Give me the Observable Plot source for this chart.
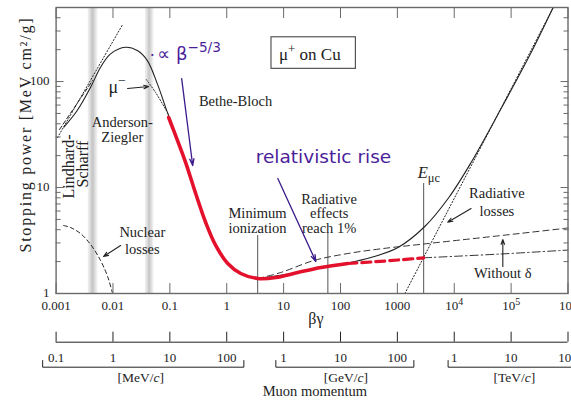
<!DOCTYPE html>
<html><head><meta charset="utf-8">
<script src="https://cdn.jsdelivr.net/npm/d3@7"></script>
<script src="https://cdn.jsdelivr.net/npm/@observablehq/plot@0.6"></script>
<style>html,body{margin:0;padding:0;background:#fff;}</style>
</head><body><div id="chart"></div>
<script>
// ---------- values: x = βγ, y = stopping power [MeV cm²/g] ----------
const xTicks = [0.001, 0.01, 0.1, 1, 10, 100, 1000, 1e4, 1e5, 1e6];
const xTickLabels = ["0.001", "0.01", "0.1", "1", "10", "100", "1000", "10^{4}", "10^{5}", "10^{6}"];
const yMajor = [1, 10, 100];
const yTickLabels = ["1", "10", "100"];
const yMinor = [2, 3, 4, 5, 6, 7, 8, 9, 20, 30, 40, 50, 60, 70, 80, 90, 200, 300, 400];
const momentumLabels = ["0.1", "1", "10", "100", "1", "10", "100", "1", "10", "100"];
const momentumUnits = ["[MeV/*c*]", "[GeV/*c*]", "[TeV/*c*]"];
const unitCenters = [0.0308, 123.9, 114300];
const brackets = [[0.00058, 2.0], [7.3, 1950], [7800, 1.3e6]];

const bandsOuter = [[0.00368, 0.00540], [0.0372, 0.0523]];
const bandsMid = [[0.00395, 0.00503], [0.0398, 0.0489]];
const bandsInner = [[0.00420, 0.00473], [0.0423, 0.0460]];

const andersonZiegler = [[0.00137, 37.1], [0.00235, 53.3], [0.00404, 88.3], [0.00605, 136.4], [0.00907, 182.5],
  [0.01667, 210.8], [0.0268, 196.1], [0.0402, 157.8], [0.0603, 95.1], [0.0904, 51.3], [0.0953, 47.8]];
const azDashed = [[0.00115, 35.3], [0.00437, 102.2]];
const lindhard = [[0.00106, 29.6], [0.01476, 345]];
const muMinus = [[0.0386, 104.4], [0.0562, 78.8], [0.0866, 53.3]];
const nuclear = [[0.00135, 4.38], [0.00179, 4.195], [0.00269, 3.68], [0.00404, 2.90], [0.00605, 2.048], [0.00804, 1.447], [0.00984, 1.0]];
const redSolid = [[0.0953, 45.8], [0.1265, 30.9], [0.1897, 17.2], [0.2844, 8.78], [0.4266, 4.68], [0.6397, 2.84],
  [1.042, 1.919], [1.763, 1.544], [3.516, 1.385], [7.29, 1.416], [17.78, 1.578], [45.2, 1.759], [134.9, 1.919]];
const redDashed = [[134.9, 1.919], [342.6, 1.982], [1025, 2.070], [2904, 2.172]];
const withDelta = [[2904, 2.172], [66680, 2.36], [1e6, 2.57]];
const noDelta = [[3.516, 1.385], [8.93, 1.578], [34.0, 2.048], [134.9, 2.384], [514, 2.641], [2600, 2.912],
  [19770, 3.281], [150000, 3.698], [1e6, 4.15]];
const total = [[3.516, 1.385], [17.78, 1.578], [45.2, 1.759], [134.9, 1.94], [342.6, 2.186], [1025, 2.716],
  [3034, 4.287], [8036, 8.05], [19770, 17.21], [66680, 55.6], [224900, 187.7], [548300, 499]];
const radiative = [[1355, 1], [27350, 22.34], [548300, 499]];

const markers = [{x: 3.5, top: 3.52}, {x: 60, top: 3.68}, {x: 2900, top: 10.9}];

const notes = [
  {x: 0.01458, y: 41.3, t: "Anderson-"}, {x: 0.01458, y: 29.8, t: "Ziegler"},
  {x: 0.0328, y: 3.787, t: "Nuclear"}, {x: 0.0328, y: 2.584, t: "losses"},
  {x: 3.472, y: 5.747, t: "Minimum"}, {x: 3.472, y: 4.105, t: "ionization"},
  {x: 63.2, y: 7.70, t: "Radiative"}, {x: 63.2, y: 5.685, t: "effects"}, {x: 63.2, y: 4.105, t: "reach 1%"},
  {x: 56230, y: 8.78, t: "Radiative"}, {x: 56230, y: 5.936, t: "losses"},
  {x: 71450, y: 1.561, t: "Without δ"}
];
const rotNotes = [{x: 0.00165, y: 15.8, t: "Lindhard-"}, {x: 0.00292, y: 16.66, t: "Scharff"}];
const blackArrows = [
  {x1: 0.01807, y1: 85.9, x2: 0.0424, y2: 89.7},
  {x1: 0.01362, y1: 2.837, x2: 0.00683, y2: 2.234},
  {x1: 19770, y1: 6.34, x2: 7690, y2: 4.707},
  {x1: 71450, y1: 1.798, x2: 71450, y2: 3.232}
];
const purpleArrows = [
  {x1: 0.1613, y1: 106.7, x2: 0.252, y2: 16.13},
  {x1: 7.906, y1: 12.16, x2: 36.9, y2: 2.004}
];

// ---------- layout ----------
const W = 571, H = 405, mL = 55.6, mR = 3.5, mT = 7, mB = 112;
const yDomain = [1, 500];
const serif = "Liberation Serif";
const sans = "DejaVu Sans";
const ink = "#222", grid = "#6a6a6a", purple = "#4b1e9a", red = "#e3112c";
const ys = Plot.scale({y: {type: "log", domain: yDomain, range: [H - mB, mT]}});
const below = px => ys.invert(px);
const X = d => d[0], Y = d => d[1];

const bracketPts = brackets.flatMap(([a, b], i) => [
  {x: a, y: below(360), z: i}, {x: a, y: below(366.7), z: i}, {x: b, y: below(366.7), z: i}, {x: b, y: below(360), z: i}]);

const svg = Plot.plot({
  width: W, height: H, marginLeft: mL, marginRight: mR, marginTop: mT, marginBottom: mB,
  x: {type: "log", domain: [0.001, 1e6]},
  y: {type: "log", domain: yDomain},
  style: {background: "#fff", fontFamily: serif},
  marks: [
    Plot.rect(bandsOuter, {x1: X, x2: Y, fill: "#ececec"}),
    Plot.rect(bandsMid, {x1: X, x2: Y, fill: "#dadada"}),
    Plot.rect(bandsInner, {x1: X, x2: Y, fill: "#cacaca"}),
    Plot.ruleX(markers, {x: "x", y1: 1, y2: "top", stroke: "#555", strokeWidth: 1}),
    Plot.line(nuclear, {x: X, y: Y, stroke: ink, strokeWidth: 1, strokeDasharray: "4,3", curve: "catmull-rom"}),
    Plot.line(lindhard, {x: X, y: Y, stroke: ink, strokeWidth: 1, strokeDasharray: "1.2,2"}),
    Plot.line(azDashed, {x: X, y: Y, stroke: ink, strokeWidth: 1, strokeDasharray: "4,2.5"}),
    Plot.line(muMinus, {x: X, y: Y, stroke: ink, strokeWidth: 1, strokeDasharray: "1.2,1.8", curve: "catmull-rom"}),
    Plot.line(andersonZiegler, {x: X, y: Y, stroke: ink, strokeWidth: 1.1, curve: "catmull-rom"}),
    Plot.line(radiative, {x: X, y: Y, stroke: ink, strokeWidth: 1, strokeDasharray: "1.2,2"}),
    Plot.line(noDelta, {x: X, y: Y, stroke: "#333", strokeWidth: 1, strokeDasharray: "6,4", curve: "catmull-rom"}),
    Plot.line(withDelta, {x: X, y: Y, stroke: "#333", strokeWidth: 1, strokeDasharray: "8,3,1.5,3", curve: "catmull-rom"}),
    Plot.line(total, {x: X, y: Y, stroke: ink, strokeWidth: 1.1, curve: "catmull-rom"}),
    Plot.line(redSolid, {x: X, y: Y, stroke: red, strokeWidth: 3.6, curve: "catmull-rom"}),
    Plot.line(redDashed, {x: X, y: Y, stroke: red, strokeWidth: 3.2, strokeDasharray: "9,5", curve: "catmull-rom"}),
    // axes ticks (inward)
    Plot.axisY({anchor: "left", ticks: yMajor, tickSize: -8, fill: "none", stroke: grid, label: null}),
    Plot.axisY({anchor: "left", ticks: yMinor, tickSize: -5, fill: "none", stroke: grid, label: null}),
    Plot.axisY({anchor: "right", ticks: yMajor, tickSize: -8, fill: "none", stroke: grid, label: null}),
    Plot.axisY({anchor: "right", ticks: yMinor, tickSize: -5, fill: "none", stroke: grid, label: null}),
    Plot.axisX({anchor: "top", ticks: xTicks, tickSize: -10, fill: "none", stroke: grid, label: null}),
    Plot.axisX({anchor: "bottom", ticks: xTicks, tickSize: -10, fill: "none", stroke: grid, label: null}),
    Plot.frame({stroke: grid, strokeWidth: 1.4}),
    // tick labels
    Plot.text(yMajor, {y: d => d, text: (d, i) => yTickLabels[i], frameAnchor: "left", dx: -6.5, dy: -1, textAnchor: "end", fontSize: 13, fill: ink}),
    Plot.text(xTicks, {x: d => d, text: (d, i) => xTickLabels[i], frameAnchor: "bottom", dy: 16.5, fontSize: 13, fill: ink}),
    Plot.text(["Stopping power [MeV cm²/g]"], {frameAnchor: "left", rotate: -90, dx: -30.6, dy: 102, textAnchor: "start", fontSize: 16, fill: ink}),
    Plot.text(["βγ"], {x: 36.9, frameAnchor: "bottom", dy: 30.5, fontSize: 16, fill: ink}),
    // momentum scale
    Plot.ruleY([below(341.7)], {stroke: ink, strokeWidth: 1}),
    Plot.ruleX(xTicks, {x: d => d, y1: below(341.7), y2: below(331.7), stroke: ink, strokeWidth: 1}),
    Plot.text(xTicks, {x: d => d, text: (d, i) => momentumLabels[i], frameAnchor: "bottom", dy: 68, fontSize: 13, fill: ink}),
    Plot.line(bracketPts, {x: "x", y: "y", z: "z", stroke: ink, strokeWidth: 1}),
    Plot.text(unitCenters, {x: d => d, text: (d, i) => momentumUnits[i], frameAnchor: "bottom", dy: 88, fontSize: 13.5, fill: ink}),
    Plot.text(["Muon momentum"], {x: 35.4, frameAnchor: "bottom", dy: 102.5, fontSize: 14.5, fill: ink}),
    // annotations
    Plot.text(notes, {x: "x", y: "y", text: "t", fontSize: 14.5, fill: ink}),
    Plot.text(["Bethe-Bloch"], {x: 0.3245, y: 64.8, textAnchor: "start", fontSize: 14.5, fill: ink}),
    Plot.text(rotNotes, {x: "x", y: "y", text: "t", rotate: -90, fontSize: 16, fill: ink}),
    Plot.text(["μ^{−}"], {x: 0.0118, y: 89.3, fontSize: 18, fill: ink}),
    Plot.text(["*E*_{μc}"], {x: 2276, y: 13.89, textAnchor: "start", fontSize: 16.5, fill: ink}),
    Plot.rect([0], {x1: 6.12, x2: 186.6, y1: 131.8, y2: 261.8, fill: "#fff", stroke: "#555", strokeWidth: 1.2}),
    Plot.text(["μ^{+} on Cu"], {x: 28.9, y: 180.2, fontSize: 17, fill: ink}),
    Plot.arrow(blackArrows, {x1: "x1", y1: "y1", x2: "x2", y2: "y2", stroke: ink, strokeWidth: 1.1, headLength: 7, headAngle: 40}),
    Plot.arrow(purpleArrows, {x1: "x1", y1: "y1", x2: "x2", y2: "y2", stroke: "#3b1a8c", strokeWidth: 1.3, headLength: 8, headAngle: 35}),
    Plot.text(["relativistic rise"], {x: 3.24, y: 19.19, textAnchor: "start", fontFamily: sans, fontSize: 18.5, fill: purple}),
    Plot.text(["∝ β^{−5/3}"], {x: 0.0603, y: 181.4, textAnchor: "start", fontFamily: sans, fontSize: 18, fill: purple}),
    Plot.text(["."], {x: 0.0492, y: 195.3, fontFamily: sans, fontSize: 16, fill: purple})
  ]
});

document.getElementById("chart").append(svg);

// rich text: ^{..} superscript, _{..} subscript, *..* italic
(function richText(root) {
  const NS = "http://www.w3.org/2000/svg";
  root.querySelectorAll("text").forEach(t => {
    const s = t.textContent;
    if (!/\^\{|_\{|\*/.test(s) || t.querySelector("tspan")) return;
    const fs = parseFloat(getComputedStyle(t).fontSize) || 12;
    while (t.firstChild) t.removeChild(t.firstChild);
    const re = /\^\{([^}]*)\}|_\{([^}]*)\}|\*([^*]+)\*|([^\^_*]+|[\^_*])/g;
    let cur = 0, m;
    while ((m = re.exec(s))) {
      let txt, target = 0, size = null, italic = false;
      if (m[1] !== undefined) { txt = m[1]; target = -0.42 * fs; size = 0.76 * fs; }
      else if (m[2] !== undefined) { txt = m[2]; target = 0.28 * fs; size = 0.76 * fs; }
      else if (m[3] !== undefined) { txt = m[3]; italic = true; }
      else txt = m[4];
      if (/^\*.+\*$/.test(txt)) { txt = txt.slice(1, -1); italic = true; }
      const ts = document.createElementNS(NS, "tspan");
      ts.textContent = txt;
      if (target !== cur) { ts.setAttribute("dy", (target - cur).toFixed(2)); cur = target; }
      if (size) ts.setAttribute("font-size", size.toFixed(2));
      if (italic) ts.setAttribute("font-style", "italic");
      t.appendChild(ts);
    }
  });
  root.querySelectorAll("text").forEach(t => {
    if (t.textContent.startsWith("Stopping")) {
      t.setAttribute("textLength", "234");
      t.setAttribute("lengthAdjust", "spacing");
    }
  });
})(svg);
</script>
</body></html>
